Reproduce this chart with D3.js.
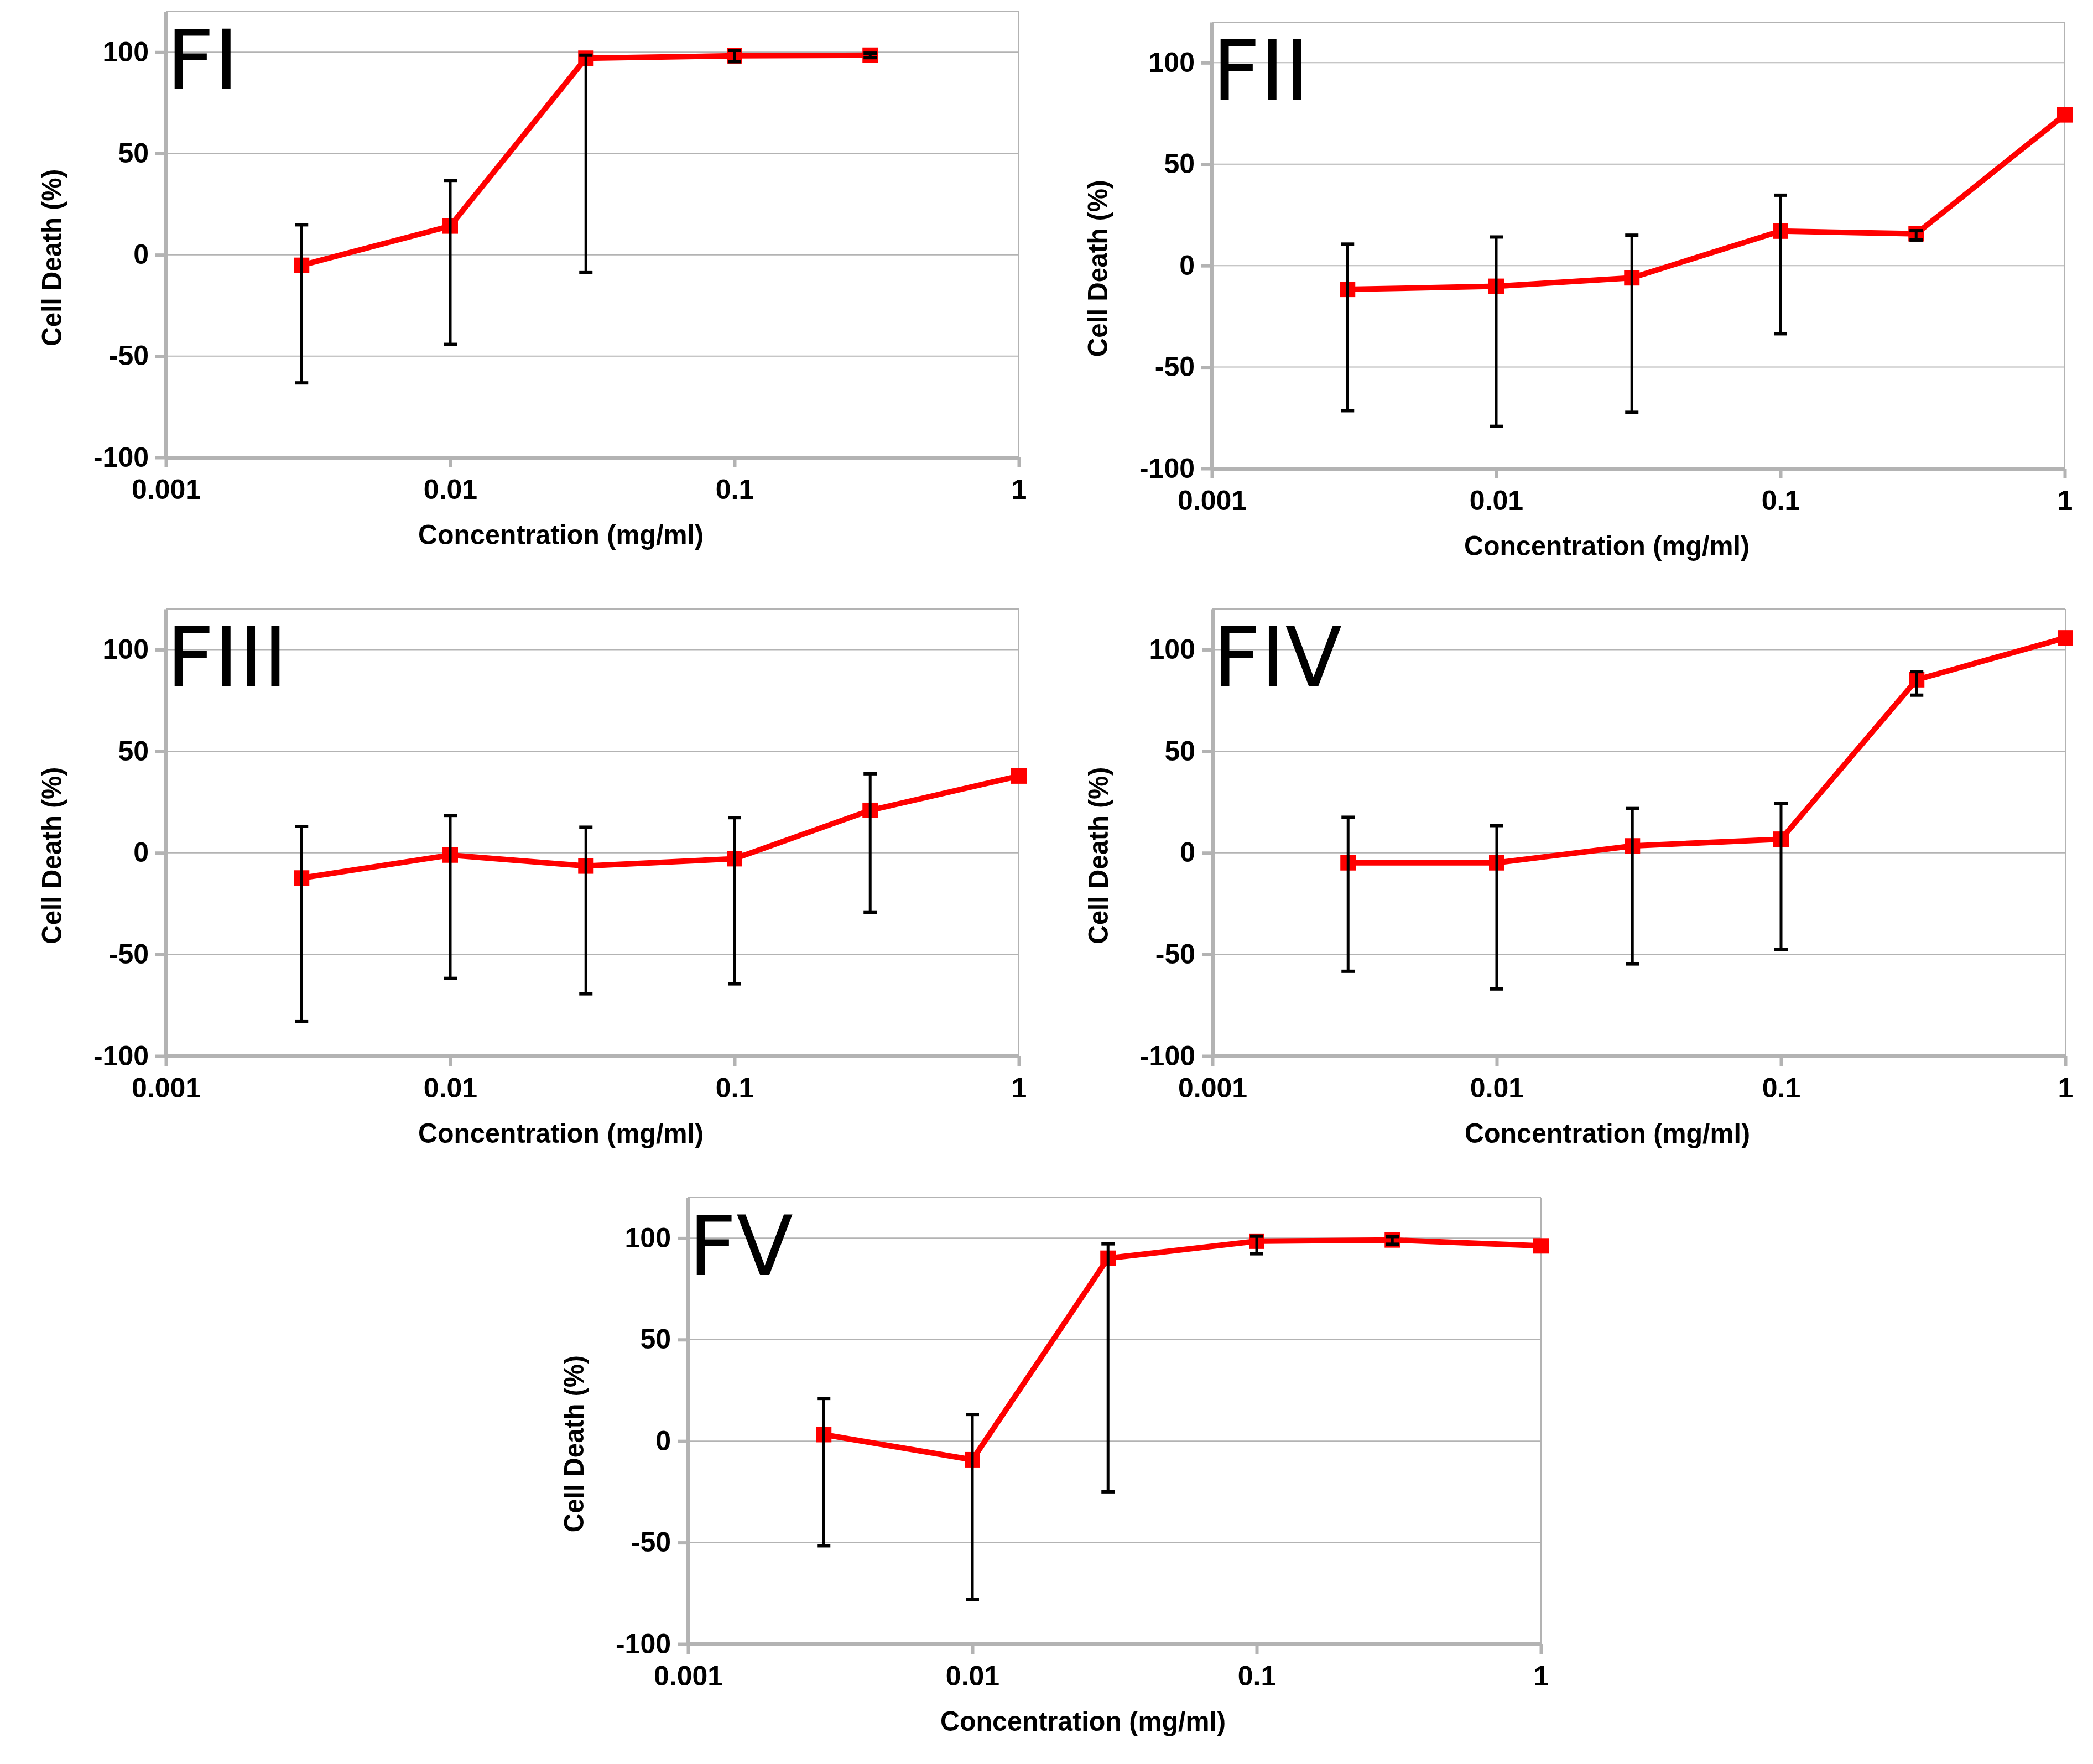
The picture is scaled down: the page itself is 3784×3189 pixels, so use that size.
<!DOCTYPE html>
<html>
<head>
<meta charset="utf-8">
<script src="https://d3js.org/d3.v7.min.js"></script>
<style>
    body { margin: 0; background: #fff; }
</style>
</head>
<body>
<div id="chart"></div>
<script>
// concentrations (mg/ml) shared by all five fractions
var concentrations = [0.003, 0.01, 0.03, 0.1, 0.3, 1];
var xTickValues = [0.001, 0.01, 0.1, 1];
var xTickLabels = ["0.001", "0.01", "0.1", "1"];
var yTickValues = [-100, -50, 0, 50, 100];
var yTickLabels = ["-100", "-50", "0", "50", "100"];

// mean cell death (%) and the ends of each error bar
// null = no point / no error bar drawn
var fiMean = [-5.2, 14.2, 97.0, 98.2, 98.5, null];
var fiHigh = [14.8, 36.7, 98.5, 100.9, 99.5, null];
var fiLow = [-63.2, -44.2, -8.8, 95.3, 97.3, null];

var fiiMean = [-11.7, -10.2, -6.0, 17.0, 15.7, 74.3];
var fiiHigh = [10.6, 14.1, 15.0, 34.7, 17.2, null];
var fiiLow = [-71.5, -79.2, -72.3, -33.6, 12.6, null];

var fiiiMean = [-12.4, -1.1, -6.5, -2.9, 20.9, 37.8];
var fiiiHigh = [13.0, 18.4, 12.6, 17.3, 38.9, null];
var fiiiLow = [-83.1, -61.8, -69.4, -64.5, -29.4, null];

var fivMean = [-4.9, -4.9, 3.4, 6.7, 85.2, 105.8];
var fivHigh = [17.5, 13.4, 21.8, 24.4, 89.2, null];
var fivLow = [-58.3, -67.0, -54.7, -47.5, 77.6, null];

var fvMean = [3.2, -9.2, 90.1, 98.5, 99.1, 96.2];
var fvHigh = [21.0, 13.1, 97.2, 101.0, 100.8, null];
var fvLow = [-51.6, -78.0, -25.0, 92.3, 97.0, null];

var xTitle = "Concentration (mg/ml)";
var yTitle = "Cell Death (%)";

// where each panel sits on the page
var panels = [
    {name: "FI", mean: fiMean, high: fiHigh, low: fiLow, left: 300, top: 21, bottom: 827},
    {name: "FII", mean: fiiMean, high: fiiHigh, low: fiiLow, left: 2191, top: 40, bottom: 847},
    {name: "FIII", mean: fiiiMean, high: fiiiHigh, low: fiiiLow, left: 300, top: 1101, bottom: 1909},
    {name: "FIV", mean: fivMean, high: fivHigh, low: fivLow, left: 2192, top: 1101, bottom: 1909},
    {name: "FV", mean: fvMean, high: fvHigh, low: fvLow, left: 1244, top: 2165, bottom: 2972}
];

var W = 3784, H = 3189;
var plotW = 1542;
var gray = "#b3b3b3";
var labelFont = "'Liberation Sans', Arial, sans-serif";

var svg = d3.select("#chart").append("svg")
    .attr("width", W)
    .attr("height", H)
    .style("display", "block")
    .style("background", "#fff");

panels.forEach(drawPanel);

function drawPanel(p) {
    var x = d3.scaleLog().domain([0.001, 1]).range([p.left, p.left + plotW]);
    var y = d3.scaleLinear().domain([-100, 120]).range([p.bottom, p.top]);
    var g = svg.append("g").attr("class", "panel");

    // grid lines + top / right frame
    g.selectAll(".grid")
        .data(yTickValues.concat([120]))
        .enter().append("line")
        .attr("x1", x(0.001)).attr("x2", x(1))
        .attr("y1", function (d) { return y(d); })
        .attr("y2", function (d) { return y(d); })
        .style("stroke", gray)
        .style("stroke-width", 2);
    g.append("line")
        .attr("x1", x(1)).attr("x2", x(1))
        .attr("y1", y(120)).attr("y2", y(-100))
        .style("stroke", gray)
        .style("stroke-width", 2);

    // axes (hyphen minus like the original, not the unicode one)
    var yAxis = d3.axisLeft(y).tickValues(yTickValues).tickSize(19).tickSizeOuter(0).tickPadding(12)
        .tickFormat(function (d, i) { return yTickLabels[i]; });
    var xAxis = d3.axisBottom(x).tickValues(xTickValues).tickSize(18).tickSizeOuter(0).tickPadding(21)
        .tickFormat(function (d, i) { return xTickLabels[i]; });

    var ya = g.append("g")
        .attr("transform", "translate(" + x(0.001) + ",0)")
        .call(yAxis);
    var xa = g.append("g")
        .attr("transform", "translate(0," + y(-100) + ")")
        .call(xAxis);

    [ya, xa].forEach(function (a) {
        a.select(".domain").style("stroke", gray).style("stroke-width", 7);
        a.selectAll(".tick line").style("stroke", gray).style("stroke-width", 6);
        a.selectAll(".tick text")
            .style("font-family", labelFont)
            .style("font-weight", "bold")
            .style("font-size", "50px")
            .style("fill", "#000");
    });

    // series line
    var pts = concentrations.map(function (c, i) {
        return {c: c, v: p.mean[i], hi: p.high[i], lo: p.low[i]};
    }).filter(function (d) { return d.v !== null; });

    var line = d3.line()
        .x(function (d) { return x(d.c); })
        .y(function (d) { return y(d.v); });

    g.append("path")
        .datum(pts)
        .attr("d", line)
        .style("fill", "none")
        .style("stroke", "#ff0000")
        .style("stroke-width", 10);

    // square markers
    g.selectAll(".marker")
        .data(pts)
        .enter().append("rect")
        .attr("x", function (d) { return x(d.c) - 14; })
        .attr("y", function (d) { return y(d.v) - 14; })
        .attr("width", 28)
        .attr("height", 28)
        .style("fill", "#ff0000");

    // error bars on top
    var bars = pts.filter(function (d) { return d.hi !== null; });
    var eb = g.selectAll(".err")
        .data(bars)
        .enter().append("g");
    eb.append("line")
        .attr("x1", function (d) { return x(d.c); })
        .attr("x2", function (d) { return x(d.c); })
        .attr("y1", function (d) { return y(d.lo); })
        .attr("y2", function (d) { return y(d.hi); })
        .style("stroke", "#000")
        .style("stroke-width", 5);
    ["hi", "lo"].forEach(function (k) {
        eb.append("line")
            .attr("x1", function (d) { return x(d.c) - 12; })
            .attr("x2", function (d) { return x(d.c) + 12; })
            .attr("y1", function (d) { return y(d[k]); })
            .attr("y2", function (d) { return y(d[k]); })
            .style("stroke", "#000")
            .style("stroke-width", 6);
    });

    // big panel name
    g.append("text")
        .attr("x", p.left + 1)
        .attr("y", p.top + 140)
        .style("font-family", "'DejaVu Sans', sans-serif")
        .style("font-size", "150px")
        .style("fill", "#000")
        .text(p.name);

    // axis titles
    g.append("text")
        .attr("x", p.left + plotW / 2 - 57)
        .attr("y", p.bottom + 157)
        .attr("text-anchor", "middle")
        .attr("textLength", 516)
        .attr("lengthAdjust", "spacingAndGlyphs")
        .style("font-family", labelFont)
        .style("font-weight", "bold")
        .style("font-size", "50px")
        .text(xTitle);

    var cy = (y(-100) + y(100)) / 2 + 5;
    g.append("text")
        .attr("transform", "translate(" + (p.left - 189) + "," + cy + ") rotate(-90)")
        .attr("text-anchor", "middle")
        .attr("textLength", 320)
        .attr("lengthAdjust", "spacingAndGlyphs")
        .style("font-family", labelFont)
        .style("font-weight", "bold")
        .style("font-size", "50px")
        .text(yTitle);
}
</script>
</body>
</html>
